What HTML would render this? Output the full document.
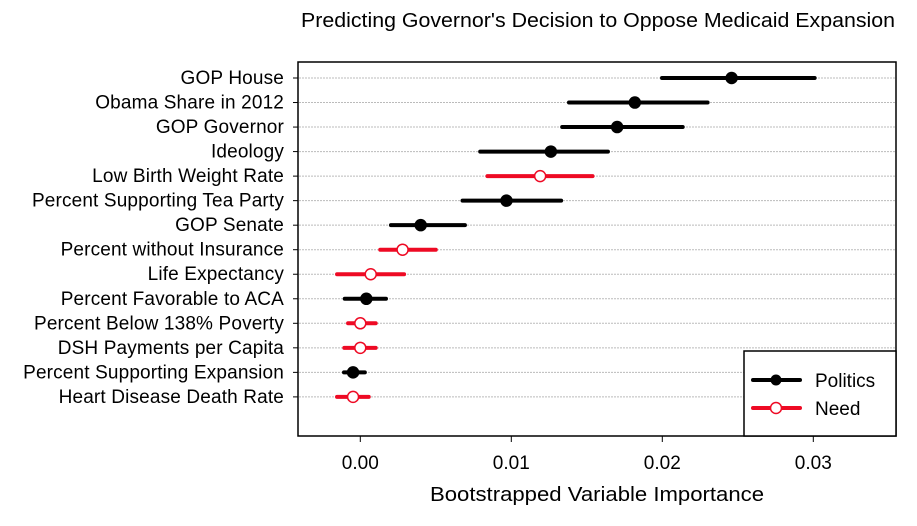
<!DOCTYPE html>
<html><head><meta charset="utf-8"><style>
body{margin:0;background:#fff}
svg text{font-family:"Liberation Sans",sans-serif;fill:#000}
</style></head><body>
<svg id="c" width="917" height="521">
<text x="598" y="27" font-size="20" text-anchor="middle" textLength="594" lengthAdjust="spacingAndGlyphs">Predicting Governor's Decision to Oppose Medicaid Expansion</text>
<g id="grid"></g><g id="marks"></g>
<rect x="298" y="62" width="598" height="374" fill="none" stroke="#000" stroke-width="1.5"/>
<text x="597" y="501" font-size="20" text-anchor="middle" textLength="334" lengthAdjust="spacingAndGlyphs">Bootstrapped Variable Importance</text>
<g>
<rect x="744" y="351" width="152" height="85" fill="#fff" stroke="#000" stroke-width="1.5"/>
<line x1="753" y1="380" x2="800" y2="380" stroke="#000" stroke-width="4" stroke-linecap="round"/>
<circle cx="776" cy="380" r="5.5" fill="#000"/>
<text x="815" y="387" font-size="19">Politics</text>
<line x1="753" y1="408" x2="800" y2="408" stroke="#ee0a24" stroke-width="4" stroke-linecap="round"/>
<circle cx="776" cy="408" r="5.5" fill="#fff" stroke="#ee0a24" stroke-width="1.5"/>
<text x="815" y="415" font-size="19">Need</text>
</g>
</svg>
<script>
const labels=["GOP House","Obama Share in 2012","GOP Governor","Ideology","Low Birth Weight Rate","Percent Supporting Tea Party","GOP Senate","Percent without Insurance","Life Expectancy","Percent Favorable to ACA","Percent Below 138% Poverty","DSH Payments per Capita","Percent Supporting Expansion","Heart Disease Death Rate"];
const groups=["P","P","P","P","N","P","P","N","N","P","N","N","P","N"];
const points=[0.02459,0.01818,0.01701,0.01262,0.01191,0.00968,0.004,0.0028,0.00069,0.0004,0,0,-0.00048,-0.00048];
const lows=[0.01998,0.01382,0.01337,0.00794,0.00842,0.00677,0.00203,0.00132,-0.00154,-0.00103,-0.00081,-0.00106,-0.00108,-0.00154];
const highs=[0.03009,0.0230,0.02135,0.0164,0.01538,0.0133,0.00693,0.005,0.0029,0.0017,0.00102,0.00102,0.0003,0.00056];
const ticks=[0,0.01,0.02,0.03];
const tickLabels=["0.00","0.01","0.02","0.03"];
const ns="http://www.w3.org/2000/svg";
const svg=document.getElementById('c'),grid=document.getElementById('grid'),marks=document.getElementById('marks');
const X=v=>360.3+v*15100;
const Y=i=>78+i*24.53;
function mk(tag,a,p){const e=document.createElementNS(ns,tag);for(const k in a)e.setAttribute(k,a[k]);(p||svg).appendChild(e);return e;}
labels.forEach((l,i)=>{
 const y=Y(i);
 const g=mk('line',{x1:299,x2:895,y1:y,y2:y,stroke:'#bbb','stroke-width':1,'stroke-dasharray':'2,1'},grid);
 
 
 const tk=mk('line',{x1:293,x2:298,y1:y,y2:y,stroke:'#000'});
 
 
 const t=mk('text',{x:284,y:y+6,'font-size':19,'text-anchor':'end','letter-spacing':'0.15'});t.textContent=l;
 
 
 const c=groups[i]=="P"?"#000":"#ee0a24";
 const ln=mk('line',{x1:X(lows[i]),x2:X(highs[i]),y1:y,y2:y,stroke:c,'stroke-width':4,'stroke-linecap':'round'},marks);
 
 
 const d=mk('circle',{cx:X(points[i]),cy:y,r:5.5,fill:groups[i]=="P"?"#000":"#fff",stroke:c,'stroke-width':1.5},marks);
 
 
});
ticks.forEach((v,i)=>{
 const tk=mk('line',{x1:X(v),x2:X(v),y1:436,y2:442,stroke:'#000'});
 
 
 const t=mk('text',{x:X(v),y:469,'font-size':19,'text-anchor':'middle'});t.textContent=tickLabels[i];
 
 
});
</script>
</body></html>
